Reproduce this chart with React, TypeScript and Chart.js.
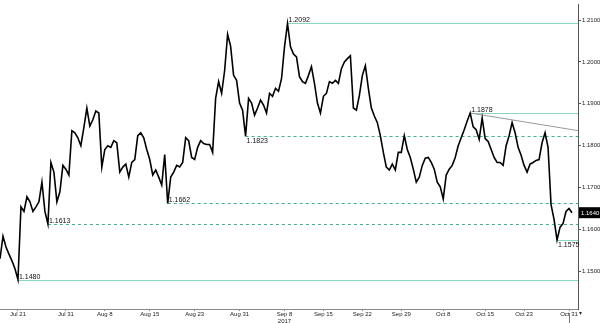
import React, { useEffect, useRef } from "react";
import { Chart, registerables } from "chart.js";

Chart.register(...registerables);

// EUR/USD hourly closes (sampled), Jul 21 - Oct 31 2017
const priceValues: number[] = [
  1.1530, 1.1584, 1.1558, 1.1541, 1.1525, 1.1506, 1.1480, 1.1654, 1.1643, 1.1678,
  1.1666, 1.1643, 1.1654, 1.1666, 1.1713, 1.1643, 1.1613, 1.1760, 1.1737, 1.1666,
  1.1690, 1.1753, 1.1744, 1.1730, 1.1836, 1.1831, 1.1819, 1.1800, 1.1843, 1.1890,
  1.1847, 1.1862, 1.1883, 1.1878, 1.1749, 1.1791, 1.1800, 1.1796, 1.1812, 1.1807,
  1.1737, 1.1749, 1.1756, 1.1725, 1.1760, 1.1767, 1.1824, 1.1831, 1.1819, 1.1791,
  1.1767, 1.1730, 1.1742, 1.1725, 1.1706, 1.1779, 1.1662, 1.1725, 1.1737, 1.1753,
  1.1749, 1.1760, 1.1819, 1.1812, 1.1772, 1.1767, 1.1796, 1.1812, 1.1805, 1.1803,
  1.1803, 1.1784, 1.1913, 1.1953, 1.1925, 1.1979, 1.2066, 1.2038, 1.1968, 1.1956,
  1.1902, 1.1885, 1.1823, 1.1913, 1.1902, 1.1873, 1.1890, 1.1909, 1.1897, 1.1878,
  1.1925, 1.1918, 1.1937, 1.1930, 1.1960, 1.2036, 1.2092, 1.2036, 1.2019, 1.2012,
  1.1965, 1.1953, 1.1949, 1.1968, 1.1989, 1.1949, 1.1902, 1.1878, 1.1918, 1.1925,
  1.1953, 1.1949, 1.1956, 1.1949, 1.1984, 1.2000, 1.2008, 1.2015, 1.1890, 1.1885,
  1.1920, 1.1968, 1.1991, 1.1937, 1.1890, 1.1871, 1.1855, 1.1824, 1.1784, 1.1749,
  1.1742, 1.1756, 1.1742, 1.1784, 1.1784, 1.1824, 1.1791, 1.1772, 1.1744, 1.1713,
  1.1725, 1.1753, 1.1770, 1.1772, 1.1760, 1.1744, 1.1713, 1.1702, 1.1673, 1.1730,
  1.1744, 1.1753, 1.1772, 1.1800, 1.1819, 1.1838, 1.1859, 1.1878, 1.1845, 1.1838,
  1.1815, 1.1866, 1.1817, 1.1810, 1.1791, 1.1772, 1.1760, 1.1760, 1.1753, 1.1800,
  1.1824, 1.1855, 1.1831, 1.1796, 1.1777, 1.1753, 1.1737, 1.1756, 1.1760, 1.1765,
  1.1767, 1.1807, 1.1831, 1.1796, 1.1659, 1.1624, 1.1575, 1.1605, 1.1614, 1.1643,
  1.1650, 1.1640,
];

const categoryCount = 194;
const tickIndex: number[] = [6, 22, 35, 50, 65, 80, 95, 108, 121, 134, 148, 162, 175, 190];
const tickLabels: (string | string[])[] = [
  "Jul 21", "Jul 31", "Aug 8", "Aug 15", "Aug 23", "Aug 31", ["Sep 8", "2017"],
  "Sep 15", "Sep 22", "Sep 29", "Oct 8", "Oct 15", "Oct 23", "Oct 31",
];
const yTicks: number[] = [1.15, 1.16, 1.17, 1.18, 1.19, 1.2, 1.21];

// Support / resistance levels
const levelValues: number[] = [1.2092, 1.1878, 1.1823, 1.1662, 1.1613, 1.148, 1.1575];
const levelStartIndex: number[] = [96, 157, 82, 56, 16, 6, 186];
// Trend line
const trendIndex: number[] = [157, 193];
const trendValues: number[] = [1.1878, 1.1836];
const lastPrice = 1.164;

// styles (kept apart from the data)
const levelDashed = [false, false, true, true, true, false, false];
const levelBelow = [false, false, true, false, false, false, true];

const SOLID = "rgb(140,214,190)";
const DASH = "rgb(60,178,145)";
const FONT = "'Liberation Sans', Arial, sans-serif";

export default function App() {
  const ref = useRef<HTMLCanvasElement | null>(null);

  useEffect(() => {
    document.body.style.margin = "0";
    const canvas = ref.current!;
    const labels: (string | string[])[] = [];
    for (let i = 0; i < categoryCount; i++) labels.push("");
    tickIndex.forEach((idx, i) => (labels[idx] = tickLabels[i]));

    const trendData: (number | null)[] = new Array(categoryCount).fill(null);
    trendIndex.forEach((idx, i) => (trendData[idx] = trendValues[i]));

    const overlay = {
      id: "overlay",
      beforeDatasetsDraw(chart: any) {
        const { ctx, scales, chartArea } = chart;
        const x = scales.x, y = scales.y;
        ctx.save();
        levelValues.forEach((v, i) => {
          const py = Math.round(y.getPixelForValue(v)) + 0.5;
          const px = x.getPixelForValue(levelStartIndex[i]);
          ctx.beginPath();
          ctx.strokeStyle = levelDashed[i] ? DASH : SOLID;
          ctx.lineWidth = 1;
          ctx.setLineDash(levelDashed[i] ? [3, 3] : []);
          ctx.moveTo(px, py);
          ctx.lineTo(chartArea.right, py);
          ctx.stroke();
        });
        ctx.restore();
      },
      afterDatasetsDraw(chart: any) {
        const { ctx, scales, chartArea } = chart;
        const x = scales.x, y = scales.y;
        ctx.save();
        ctx.font = `7px ${FONT}`;
        ctx.fillStyle = "#111";
        ctx.textAlign = "left";
        levelValues.forEach((v, i) => {
          const py = y.getPixelForValue(v);
          const px = x.getPixelForValue(levelStartIndex[i]) + 1;
          if (levelBelow[i]) {
            ctx.textBaseline = "top";
            ctx.fillText(v.toFixed(4), px, py + 1.5);
          } else {
            ctx.textBaseline = "bottom";
            ctx.fillText(v.toFixed(4), px, py + 0.5);
          }
        });
        // last price box
        const ly = y.getPixelForValue(lastPrice);
        ctx.fillStyle = "#000";
        ctx.fillRect(chartArea.right + 1, ly - 5.5, 21, 11);
        ctx.fillStyle = "#fff";
        ctx.textBaseline = "middle";
        ctx.font = `6px ${FONT}`;
        ctx.fillText(lastPrice.toFixed(4), chartArea.right + 3, ly + 0.5);
        // cursor marker at last date
        const cx = Math.round(x.getPixelForValue(tickIndex[tickIndex.length - 1])) + 0.5;
        ctx.strokeStyle = "#777";
        ctx.lineWidth = 1;
        ctx.beginPath();
        ctx.moveTo(cx, chartArea.bottom + 4);
        ctx.lineTo(cx, chart.height);
        ctx.stroke();
        ctx.fillStyle = "#333";
        ctx.font = `6px ${FONT}`;
        ctx.textAlign = "left";
        ctx.textBaseline = "middle";
        ctx.fillText("▾", chartArea.right + 1, chartArea.bottom + 4);
        ctx.restore();
      },
    };

    const chart = new Chart(canvas, {
      type: "line",
      data: {
        labels,
        datasets: [
          {
            data: priceValues,
            borderColor: "#000",
            borderWidth: 1.6,
            pointRadius: 0,
            tension: 0,
          },
          {
            data: trendData,
            borderColor: "#9a9a9a",
            borderWidth: 1,
            pointRadius: 0,
            spanGaps: true,
          },
        ],
      },
      options: {
        animation: false,
        responsive: false,
        events: [],
        layout: { padding: 0 },
        plugins: { legend: { display: false }, tooltip: { enabled: false } },
        scales: {
          x: {
            type: "category",
            offset: false,
            afterFit: (s: any) => { s.height = 14; },
            border: { color: "#888", width: 1 },
            grid: {
              drawOnChartArea: false,
              tickLength: 2,
              color: (c: any) => (labels[c.index] ? "#888" : "rgba(0,0,0,0)"),
            },
            ticks: {
              autoSkip: false,
              maxRotation: 0,
              minRotation: 0,
              padding: 0,
              color: "#222",
              font: { size: 6, family: FONT, lineHeight: 1.1 },
              callback: (_v: any, i: number) => labels[i],
            },
          },
          y: {
            position: "right",
            min: 1.141,
            max: 1.2137,
            afterFit: (s: any) => { s.width = 22; },
            afterBuildTicks: (s: any) => { s.ticks = yTicks.map((v) => ({ value: v })); },
            border: { color: "#555", width: 1 },
            grid: { drawOnChartArea: false, tickLength: 3, color: "#555" },
            ticks: {
              padding: 1,
              color: "#222",
              font: { size: 6, family: FONT },
              callback: (v: any) => Number(v).toFixed(4),
            },
          },
        },
      },
      plugins: [overlay],
    });
    return () => chart.destroy();
  }, []);

  return (
    <div style={{ width: 600, height: 323 }}>
      <canvas ref={ref} width={600} height={323} />
    </div>
  );
}
